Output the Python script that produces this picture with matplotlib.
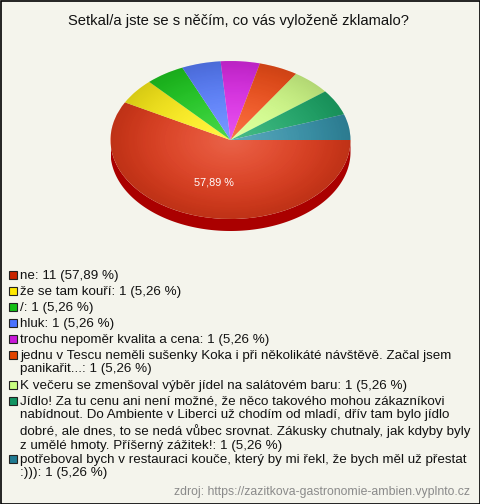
import matplotlib
matplotlib.use("Agg")
import matplotlib.pyplot as plt
import numpy as np
from matplotlib.patches import Rectangle, Polygon, Ellipse

plt.rcParams['font.family'] = ['Liberation Sans', 'DejaVu Sans']

title = "Setkal/a jste se s něčím, co vás vyloženě zklamalo?"
labels = [
    "ne",
    "že se tam kouří",
    "/",
    "hluk",
    "trochu nepoměr kvalita a cena",
    "jednu v Tescu neměli sušenky Koka i při několikáté návštěvě. Začal jsem\npanikařit...",
    "K večeru se zmenšoval výběr jídel na salátovém baru",
    "Jídlo! Za tu cenu ani není možné, že něco takového mohou zákazníkovi\nnabídnout. Do Ambiente v Liberci už chodím od mladí, dřív tam bylo jídlo\ndobré, ale dnes, to se nedá vůbec srovnat. Zákusky chutnaly, jak kdyby byly\nz umělé hmoty. Příšerný zážitek!",
    "potřeboval bych v restauraci kouče, který by mi řekl, že bych měl už přestat\n:)))",
]
counts = [11, 1, 1, 1, 1, 1, 1, 1, 1]
slice_colors = ["#e23c1c", "#fff01a", "#20cc22", "#5a80ff", "#de2ce8",
                "#f4501a", "#d4ff8a", "#1eaa6a", "#3592aa"]
legend_colors = ["#c82400", "#ffe800", "#14c014", "#4a72ff", "#c818d8",
                 "#e24400", "#c8ff80", "#129462", "#1f7a92"]
source = "zdroj: https://zazitkova-gastronomie-ambien.vyplnto.cz"

W, H = 480, 504
fig = plt.figure(figsize=(W / 100, H / 100), dpi=100)
bg = "#f4f4ec"
fig.patch.set_facecolor(bg)

def fx(px):
    return px / W

def fy(py):
    return 1 - py / H

# border
fig.patches.append(Rectangle((0.5 / W, 0.5 / H), 1 - 1.0 / W, 1 - 1.0 / H,
                             transform=fig.transFigure, fill=False,
                             edgecolor="#000000", linewidth=1.2))

fig.text(fx(238), fy(21), title, ha="center", va="center", fontsize=10.6,
         color="#111111")

# pie axes (elliptic)
cx, cy, rx, ry, depth = 230.5, 140, 120, 79, 12
ylo = -1 - depth / ry
ax = fig.add_axes([fx(cx - rx), fy(cy + ry + depth), 2 * rx / W, (2 * ry + depth) / H])
total = sum(counts)

def pct(p):
    return ("%.2f %%" % p).replace(".", ",") if p > 20 else ""

wedges, texts, autotexts = ax.pie(counts, colors=slice_colors, startangle=0,
                                  counterclock=False, autopct=pct,
                                  pctdistance=0.55,
                                  wedgeprops=dict(linewidth=0))
for t in autotexts:
    t.set_color("white")
    t.set_fontsize(7.8)
    t.set_zorder(10)
ax.set_aspect("auto")
ax.axis("off")

# side (depth) band under the front half
th = np.linspace(np.pi, 2 * np.pi, 200)
top = np.column_stack([np.cos(th), np.sin(th)])
bot = np.column_stack([np.cos(th[::-1]), np.sin(th[::-1]) - depth / ry])
ax.add_patch(Polygon(np.vstack([top, bot]), closed=True, facecolor="#aa0000",
                     edgecolor="none", zorder=0))

# smooth radial shading overlays (lighter centre, darker rim)
n = 300
gx, gy = np.meshgrid(np.linspace(-1, 1, n), np.linspace(-1, 1, n))
r = np.clip(np.hypot(gx, gy), 0, 1)
white = np.ones((n, n, 4))
white[..., 3] = 0.20 * (1 - r) ** 1.3
black = np.zeros((n, n, 4))
black[..., 3] = 0.16 * r ** 2.2
for img in (white, black):
    im = ax.imshow(img, extent=(-1, 1, -1, 1), origin="lower", zorder=5,
                   interpolation="bilinear", aspect="auto")
    im.set_clip_path(Ellipse((0, 0), 2, 2, transform=ax.transData))
ax.set_xlim(-1, 1)
ax.set_ylim(ylo, 1)

# legend
x_sq, x_txt = 13, 20
y = 276
line_h, gap = 14, 2
for lab, c, col in zip(labels, counts, legend_colors):
    p = 100 * c / total
    txt = "%s: %d (%s)" % (lab, c, ("%.2f %%" % p).replace(".", ","))
    fig.patches.append(Rectangle((fx(x_sq - 4), fy(y + 3)), 8 / W, 8 / H,
                                 transform=fig.transFigure, facecolor=col,
                                 edgecolor="#222222", linewidth=0.8))
    fig.text(fx(x_txt), fy(y - 6.5), txt, ha="left", va="top", fontsize=9.6,
             color="#111111", linespacing=1.22)
    nl = txt.count("\n") + 1
    y += nl * line_h + gap

fig.text(fx(470), fy(492), source, ha="right", va="center", fontsize=8.8,
         color="#8a8a8a")

fig.savefig("out.png", dpi=100, facecolor=bg)
